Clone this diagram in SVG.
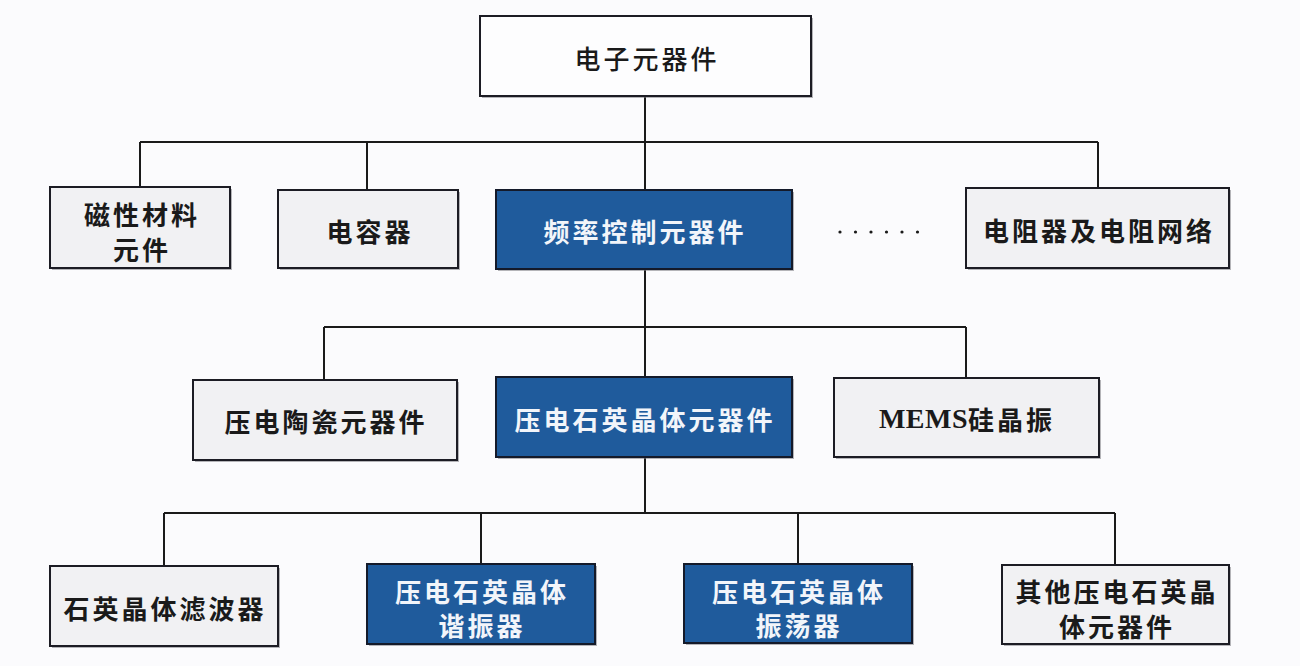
<svg xmlns="http://www.w3.org/2000/svg" width="1300" height="666" viewBox="0 0 1300 666">
<defs>
<style>
.bg{fill:#fbfbfd}
.box{fill:#f1f1f3;stroke:#1c1c24;stroke-width:2}
.blue{fill:#1f5b9c;stroke:#141a2a;stroke-width:2}
.sh{fill:#7a7a80;opacity:0.55}
.t{font-family:"Noto Sans CJK SC","Noto Sans",sans-serif;font-size:26px;font-weight:700;letter-spacing:3px;text-anchor:middle;dominant-baseline:central;fill:#1a1a1a}
.tw{fill:#f2f5fa}
.top{font-weight:500}
.ln{stroke:#1a1a1a;stroke-width:2;fill:none}
</style>
</defs>
<rect class="bg" x="0" y="0" width="1300" height="666"/>
<g id="connectors">
<path class="ln" d="M645 96V190M140 142H1098M140 142V187M367 142V190M1098 142V188"/>
<path class="ln" d="M645 269V377M324 327H966M324 327V380M966 327V378"/>
<path class="ln" d="M645 457V513M164 513H1115M164 513V566M481 513V564M798 513V564M1115 513V565"/>
</g>
<g id="n0">
<rect class="sh" x="482" y="18" width="331" height="80"/>
<rect class="box" x="480" y="16" width="331" height="80" style="fill:#fdfdfe"/>
<text class="t top" x="647" y="57">电子元器件</text>
</g>
<g id="n1">
<rect class="sh" x="52" y="189" width="180" height="81"/>
<rect class="box" x="50" y="187" width="180" height="81"/>
<text class="t" x="142" y="213">磁性材料</text>
<text class="t" x="142" y="248">元件</text>
</g>
<g id="n2">
<rect class="sh" x="280" y="192" width="180" height="78"/>
<rect class="box" x="278" y="190" width="180" height="78"/>
<text class="t" x="370" y="230">电容器</text>
</g>
<g id="n3">
<rect class="sh" x="498" y="192" width="296" height="79"/>
<rect class="blue" x="496" y="190" width="296" height="79"/>
<text class="t tw" x="645" y="230">频率控制元器件</text>
</g>
<g id="dots" fill="#1a1a1a">
<circle cx="840" cy="232" r="1.6"/>
<circle cx="855.5" cy="232" r="1.6"/>
<circle cx="871" cy="232" r="1.6"/>
<circle cx="886.5" cy="232" r="1.6"/>
<circle cx="902" cy="232" r="1.6"/>
<circle cx="917.5" cy="232" r="1.6"/>
</g>
<g id="n4">
<rect class="sh" x="968" y="190" width="263" height="80"/>
<rect class="box" x="966" y="188" width="263" height="80"/>
<text class="t" x="1099" y="229">电阻器及电阻网络</text>
</g>
<g id="n5">
<rect class="sh" x="195" y="382" width="264" height="80"/>
<rect class="box" x="193" y="380" width="264" height="80"/>
<text class="t" x="326" y="420">压电陶瓷元器件</text>
</g>
<g id="n6">
<rect class="sh" x="498" y="379" width="296" height="80"/>
<rect class="blue" x="496" y="377" width="296" height="80"/>
<text class="t tw" x="645" y="418">压电石英晶体元器件</text>
</g>
<g id="n7">
<rect class="sh" x="836" y="380" width="265" height="79"/>
<rect class="box" x="834" y="378" width="265" height="79"/>
<text class="t" x="967" y="418"><tspan style="font-family:'Liberation Serif',serif;font-size:28px;letter-spacing:0.5px">MEMS</tspan>硅晶振</text>
</g>
<g id="n8">
<rect class="sh" x="52" y="568" width="228" height="80"/>
<rect class="box" x="50" y="566" width="228" height="80"/>
<text class="t" x="165" y="607">石英晶体滤波器</text>
</g>
<g id="n9">
<rect class="sh" x="369" y="566" width="228" height="80"/>
<rect class="blue" x="367" y="564" width="228" height="80"/>
<text class="t tw" x="482" y="590">压电石英晶体</text>
<text class="t tw" x="482" y="624">谐振器</text>
</g>
<g id="n10">
<rect class="sh" x="686" y="566" width="228" height="79"/>
<rect class="blue" x="684" y="564" width="228" height="79"/>
<text class="t tw" x="799" y="590">压电石英晶体</text>
<text class="t tw" x="799" y="624">振荡器</text>
</g>
<g id="n11">
<rect class="sh" x="1004" y="567" width="227" height="79"/>
<rect class="box" x="1002" y="565" width="227" height="79"/>
<text class="t" x="1117" y="590">其他压电石英晶</text>
<text class="t" x="1117" y="625">体元器件</text>
</g>
</svg>
